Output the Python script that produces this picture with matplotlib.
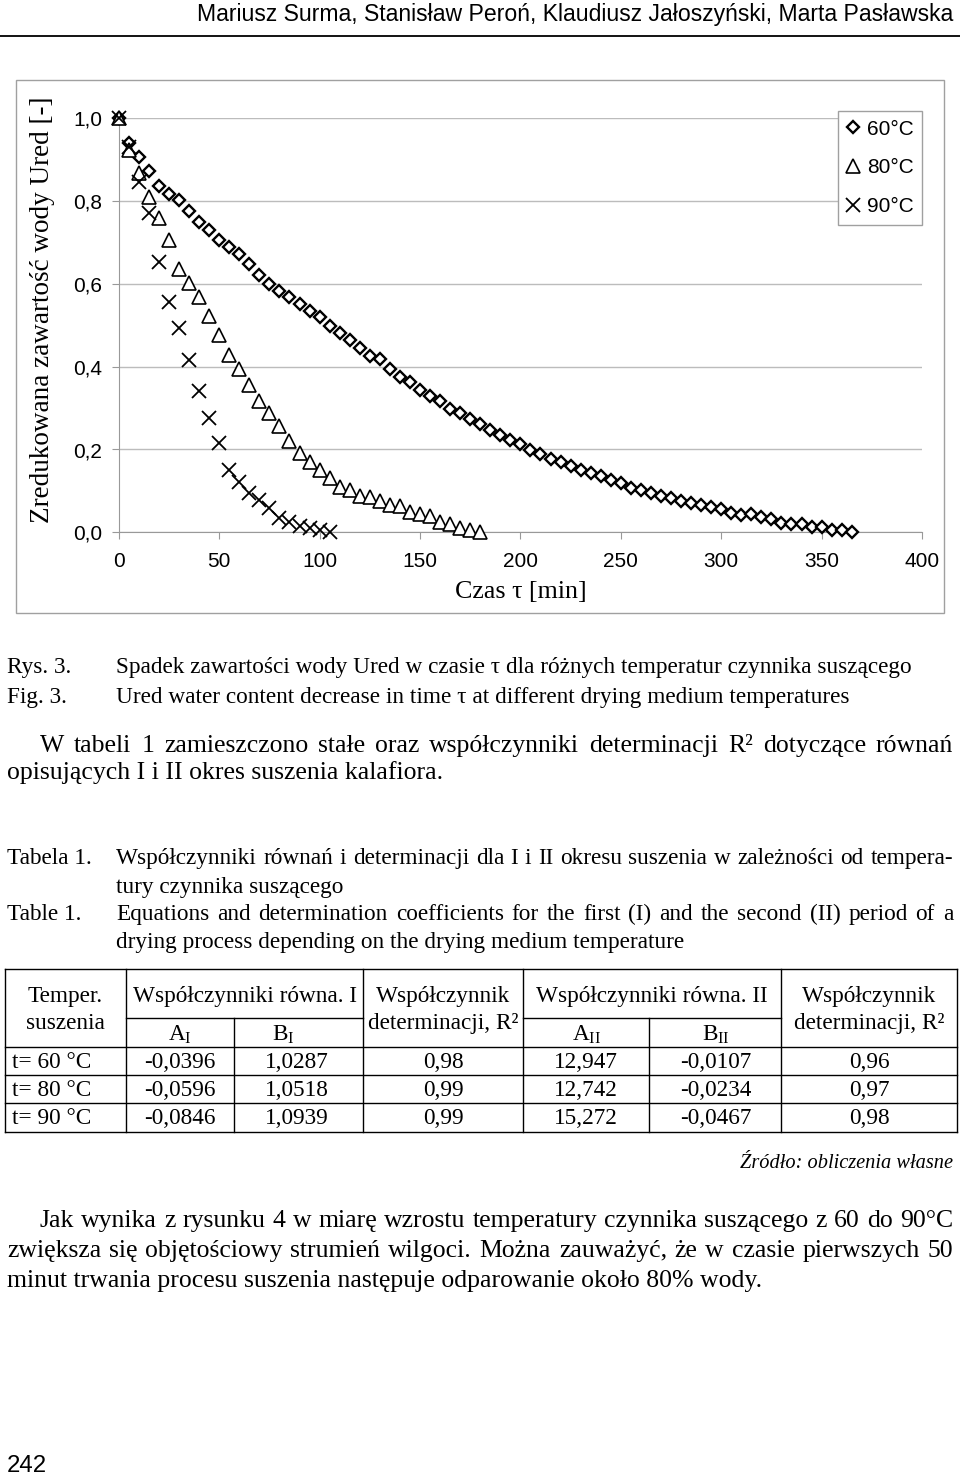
import numpy as np
import matplotlib.pyplot as plt
from matplotlib.patches import Rectangle

plt.rcParams['mathtext.fontset'] = 'custom'
plt.rcParams['mathtext.rm'] = 'Liberation Serif'
plt.rcParams['mathtext.default'] = 'regular'

SERIF = 'Liberation Serif'
SANS = 'Liberation Sans'

# --- chart data ---
t60 = [0, 5, 10, 15, 20, 25, 30, 35, 40, 45, 50, 55, 60, 65, 70, 75, 80, 85, 90, 95,
       100, 105, 110, 115, 120, 125, 130, 135, 140, 145, 150, 155, 160, 165, 170, 175,
       180, 185, 190, 195, 200, 205, 210, 215, 220, 225, 230, 235, 240, 245, 250, 255,
       260, 265, 270, 275, 280, 285, 290, 295, 300, 305, 310, 315, 320, 325, 330, 335,
       340, 345, 350, 355, 360, 365]
u60 = [1.0, 0.940, 0.906, 0.873, 0.837, 0.816, 0.803, 0.775, 0.750, 0.729, 0.705, 0.688,
       0.672, 0.648, 0.622, 0.600, 0.584, 0.569, 0.552, 0.535, 0.519, 0.499, 0.481, 0.465,
       0.444, 0.426, 0.418, 0.394, 0.375, 0.362, 0.343, 0.330, 0.318, 0.298, 0.287, 0.274,
       0.262, 0.247, 0.234, 0.223, 0.214, 0.199, 0.190, 0.176, 0.171, 0.160, 0.150, 0.144,
       0.136, 0.126, 0.118, 0.108, 0.102, 0.094, 0.087, 0.083, 0.076, 0.070, 0.066, 0.062,
       0.056, 0.047, 0.042, 0.043, 0.038, 0.032, 0.023, 0.019, 0.019, 0.014, 0.014, 0.006,
       0.006, 0.0]

t80 = [0, 5, 10, 15, 20, 25, 30, 35, 40, 45, 50, 55, 60, 65, 70, 75, 80, 85, 90, 95,
       100, 105, 110, 115, 120, 125, 130, 135, 140, 145, 150, 155, 160, 165, 170, 175, 180]
u80 = [1.0, 0.923, 0.867, 0.811, 0.758, 0.705, 0.635, 0.603, 0.569, 0.523, 0.477, 0.428,
       0.394, 0.356, 0.318, 0.289, 0.257, 0.221, 0.192, 0.171, 0.151, 0.130, 0.110, 0.102,
       0.088, 0.085, 0.075, 0.066, 0.063, 0.050, 0.043, 0.039, 0.026, 0.020, 0.011, 0.006,
       0.0]

t90 = [0, 5, 10, 15, 20, 25, 30, 35, 40, 45, 50, 55, 60, 65, 70, 75, 80, 85, 90, 95,
       100, 105]
u90 = [1.0, 0.930, 0.847, 0.771, 0.654, 0.556, 0.494, 0.416, 0.341, 0.275, 0.215, 0.151,
       0.122, 0.094, 0.078, 0.058, 0.034, 0.026, 0.015, 0.010, 0.006, 0.0]

series_labels = ['60°C', '80°C', '90°C']
x_ticks = [0, 50, 100, 150, 200, 250, 300, 350, 400]
y_ticks = [0.0, 0.2, 0.4, 0.6, 0.8, 1.0]
y_tick_labels = ['0,0', '0,2', '0,4', '0,6', '0,8', '1,0']

# --- table data ---
temps = ['t= 60 °C', 't= 80 °C', 't= 90 °C']
a1 = ['-0,0396', '-0,0596', '-0,0846']
b1 = ['1,0287', '1,0518', '1,0939']
r1 = ['0,98', '0,99', '0,99']
a2 = ['12,947', '12,742', '15,272']
b2 = ['-0,0107', '-0,0234', '-0,0467']
r2 = ['0,96', '0,97', '0,98']

W, H = 960, 1475
fig = plt.figure(figsize=(W / 100, H / 100), dpi=100)
page = fig.add_axes([0, 0, 1, 1])
page.set_xlim(0, W)
page.set_ylim(H, 0)
page.axis('off')
renderer = fig.canvas.get_renderer()


def width_of(s, size, **kw):
    t = page.text(0, 0, s, fontsize=size, **kw)
    w = t.get_window_extent(renderer).width
    t.remove()
    return w


def fit(s, width, **kw):
    return 20 * width / width_of(s, 20, **kw)


def line(s, x, y, size, ha='left', **kw):
    page.text(x, y, s, fontsize=size, ha=ha, va='baseline', **kw)


def justify(s, x0, x1, y, size, **kw):
    words = s.split(' ')
    ws = [width_of(w, size, **kw) for w in words]
    gap = (x1 - x0 - sum(ws)) / (len(words) - 1)
    x = x0
    for w, wd in zip(words, ws):
        page.text(x, y, w, fontsize=size, va='baseline', **kw)
        x += wd + gap


# header
head = 'Mariusz Surma, Stanisław Peroń, Klaudiusz Jałoszyński, Marta Pasławska'
line(head, 953, 21, fit(head, 758, family=SANS), ha='right', family=SANS)
page.plot([0, W], [36, 36], color='black', lw=1.3)

# chart frame
page.add_patch(Rectangle((16, 80), 928, 533, fill=False, ec='#a0a0a0', lw=1))

ax = fig.add_axes([118.8 / W, 1 - 532.3 / H, 803.2 / W, 414 / H])
ax.set_xlim(0, 400)
ax.set_ylim(0, 1)
l60, = ax.plot(t60, u60, ls='none', marker='D', ms=6.2, mfc='white', mec='black',
               mew=1.7, clip_on=False, zorder=5)
l80, = ax.plot(t80, u80, ls='none', marker='^', ms=10, mfc='white', mec='black',
               mew=1.2, clip_on=False, zorder=6)
l90, = ax.plot(t90, u90, ls='none', marker='x', ms=10.5, mec='black',
               mew=1.3, clip_on=False, zorder=7)
ax.set_yticks(y_ticks)
ax.set_yticklabels(y_tick_labels)
ax.set_xticks(x_ticks)
ax.grid(axis='y', color='#bcbcbc', lw=1)
ax.set_axisbelow(True)
for s in ['top', 'right']:
    ax.spines[s].set_visible(False)
for s in ['left', 'bottom']:
    ax.spines[s].set_color('#999999')
ax.tick_params(axis='both', colors='#999999', labelcolor='black', labelsize=15,
               length=5, direction='out')
ax.tick_params(axis='y', pad=7)
ax.tick_params(axis='x', pad=9)
for lab in ax.get_xticklabels() + ax.get_yticklabels():
    lab.set_family(SANS)
leg = ax.legend([l60, l80, l90], series_labels, loc='upper right',
                bbox_to_anchor=(1.0, 1.017), borderaxespad=0, fancybox=False,
                edgecolor='#a0a0a0', framealpha=1, prop={'family': SANS, 'size': 15},
                handlelength=0.7, handletextpad=0.3, labelspacing=0.95, borderpad=0.4)
leg.get_frame().set_linewidth(1)

ylab = 'Zredukowana zawartość wody Ured [-]'
page.text(43, 310, ylab, rotation=90, ha='center', va='center', family=SERIF,
          fontsize=fit(ylab, 425, family=SERIF))
xlab = 'Czas τ [min]'
page.text(521, 598, xlab, ha='center', va='baseline', family=SERIF,
          fontsize=fit(xlab, 132, family=SERIF))

# captions
cap2 = 'Ured water content decrease in time τ at different drying medium temperatures'
cs = fit(cap2, 734, family=SERIF)
line('Rys. 3.', 7, 673, cs, family=SERIF)
line('Spadek zawartości wody Ured w czasie τ dla różnych temperatur czynnika suszącego',
     116, 673, cs, family=SERIF)
line('Fig. 3.', 7, 703, cs, family=SERIF)
line(cap2, 116, 703, cs, family=SERIF)

# body text
last = 'minut trwania procesu suszenia następuje odparowanie około 80% wody.'
bs = fit(last, 755, family=SERIF)
justify('W tabeli 1 zamieszczono stałe oraz współczynniki determinacji R² dotyczące równań',
        40, 953, 752, bs, family=SERIF)
line('opisujących I i II okres suszenia kalafiora.', 7, 779, bs, family=SERIF)

line('Tabela 1.', 7, 864, cs, family=SERIF)
justify('Współczynniki równań i determinacji dla I i II okresu suszenia w zależności od tempera-',
        116, 953, 864, cs, family=SERIF)
line('tury czynnika suszącego', 116, 893, cs, family=SERIF)
line('Table 1.', 7, 920, cs, family=SERIF)
justify('Equations and determination coefficients for the first (I) and the second (II) period of a',
        116, 953, 920, cs, family=SERIF)
line('drying process depending on the drying medium temperature', 116, 948, cs, family=SERIF)

# table grid
top, sub, bottom = 969, 1018, 1132
rows = [1047, 1075, 1103]
cols = [5, 126, 363, 523, 781, 957]
for y in [top] + rows + [bottom]:
    page.plot([5, 957], [y, y], color='black', lw=1)
for x in cols:
    page.plot([x, x], [top, bottom], color='black', lw=1)
for x0, x1, xm in [(126, 363, 234), (523, 781, 649)]:
    page.plot([x0, x1], [sub, sub], color='black', lw=1)
    page.plot([xm, xm], [sub, bottom], color='black', lw=1)

ts = fit('Współczynniki równa. I', 224, family=SERIF)
tk = dict(family=SERIF, ha='center')
line('Temper.', 65, 1002, ts, **tk)
line('suszenia', 65, 1029, ts, **tk)
line('Współczynniki równa. I', 245, 1002, ts, **tk)
line('Współczynniki równa. II', 652, 1002, ts, **tk)
for xc in [443, 869]:
    line('Współczynnik', xc, 1002, ts, **tk)
    line('determinacji, R²', xc, 1029, ts, **tk)
line('A$_\\mathrm{I}$', 180, 1041, ts, **tk)
line('B$_\\mathrm{I}$', 283, 1041, ts, **tk)
line('A$_\\mathrm{II}$', 586, 1041, ts, **tk)
line('B$_\\mathrm{II}$', 716, 1041, ts, **tk)
for i, yb in enumerate([1068, 1096, 1124]):
    line(temps[i], 12, yb, ts, family=SERIF)
    line(a1[i], 180, yb, ts, **tk)
    line(b1[i], 297, yb, ts, **tk)
    line(r1[i], 443, yb, ts, **tk)
    line(a2[i], 586, yb, ts, **tk)
    line(b2[i], 716, yb, ts, **tk)
    line(r2[i], 869, yb, ts, **tk)

src = 'Źródło: obliczenia własne'
line(src, 953, 1168, fit(src, 213, family=SERIF, style='italic'), ha='right',
     family=SERIF, style='italic')

justify('Jak wynika z rysunku 4 w miarę wzrostu temperatury czynnika suszącego z 60 do 90°C',
        40, 953, 1227, bs, family=SERIF)
justify('zwiększa się objętościowy strumień wilgoci. Można zauważyć, że w czasie pierwszych 50',
        7, 953, 1257, bs, family=SERIF)
line(last, 7, 1287, bs, family=SERIF)

line('242', 7, 1472, fit('242', 40, family=SANS), family=SANS)

fig.savefig('out.png', dpi=100)
